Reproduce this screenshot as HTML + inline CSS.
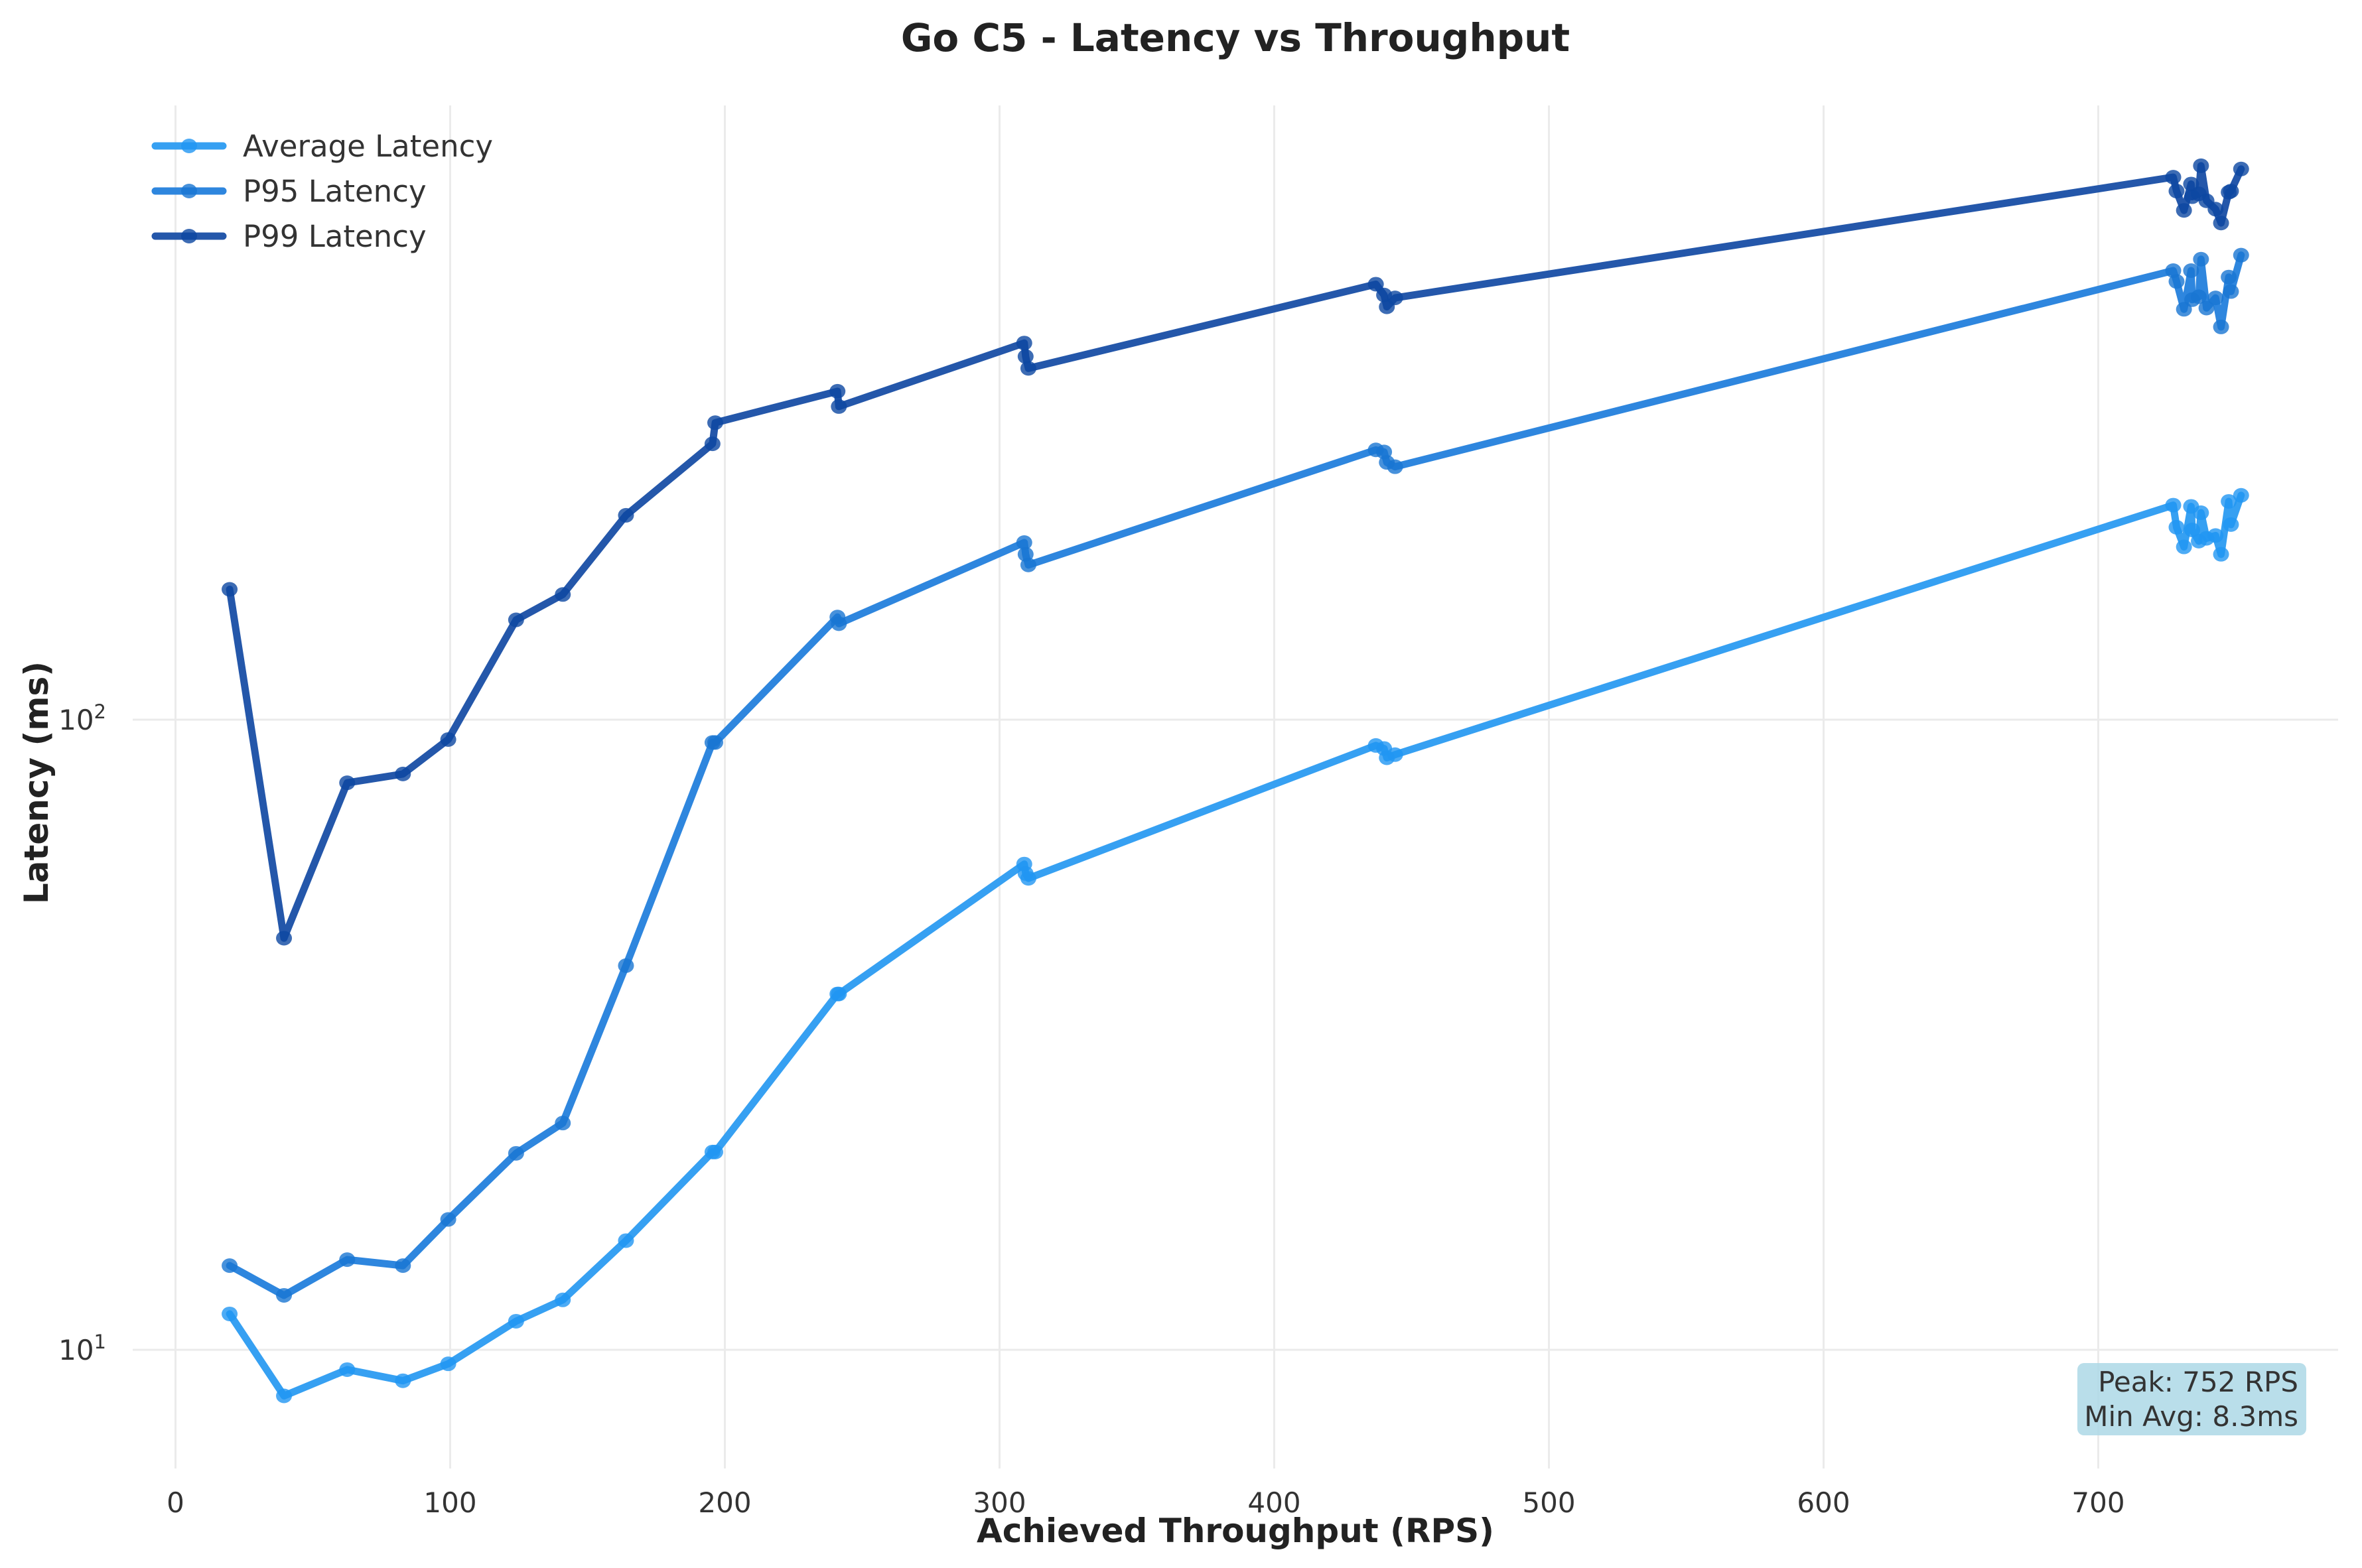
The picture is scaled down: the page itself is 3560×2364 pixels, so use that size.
<!DOCTYPE html>
<html><head><meta charset="utf-8"><style>
html,body{margin:0;padding:0;background:#fff;}
svg{display:block;font-family:"DejaVu Sans","Liberation Sans",sans-serif;}
</style></head><body>
<svg id="chart" width="3560" height="2364" viewBox="0 0 3560 2364">
<text x="1862" y="77" text-anchor="middle" font-size="58" font-weight="bold" fill="#222">Go C5 - Latency vs Throughput</text>
<g id="grid"></g>
<g id="series"></g>
<g id="ticks"></g>
<text x="1862" y="2325" text-anchor="middle" font-size="50" font-weight="bold" fill="#222">Achieved Throughput (RPS)</text>
<text transform="translate(72,1180) rotate(-90)" text-anchor="middle" font-size="50" font-weight="bold" fill="#222">Latency (ms)</text>
<g id="legend"></g>
<g>
<rect x="3131" y="2055" width="345" height="109" rx="10" fill="#add8e6" fill-opacity="0.85"/>
<text x="3464" y="2098" text-anchor="end" font-size="42" fill="#333">Peak: 752 RPS</text>
<text x="3464" y="2150" text-anchor="end" font-size="42" fill="#333">Min Avg: 8.3ms</text>
</g>
</svg>
<script>
const rps = [19.7,39.5,62.5,82.8,99.3,124,141,164,195.5,196.5,241,241.5,309,309.5,310.5,437,440,441,444,
  727.3,728.5,731.2,733.8,734.2,736.6,737.4,739.4,742.7,744.7,747.5,748.3,752];
const avgLatency = [11.4,8.45,9.3,8.93,9.5,11.1,12.0,14.9,20.6,20.6,36.7,36.7,59,57,56,91,90,87,88,
  219,202,188,218,200,192,213,194,196,183,222,204,227];
const p95Latency = [13.6,12.2,13.9,13.6,16.1,20.5,22.9,40.7,92,92,145.5,142,191,183,176,268,266,256,252,
  516,496,448,516,464,469,538,450,467,420,504,478,546];
const p99Latency = [161,45,79.4,82,93,144,158,211,274,296,332,314,396,377,361,491,472,452,467,
  726,690,643,708,676,683,757,666,646,614,687,690,748];
const seriesNames = ["Average Latency","P95 Latency","P99 Latency"];
const xTicks = [0,100,200,300,400,500,600,700];
const yTickExps = [1,2];

const NS="http://www.w3.org/2000/svg";
const X0=264.5, XS=4.14;
const Y1=2035, DEC=950;
const plotL=200, plotR=3524, plotT=159, plotB=2214;
function xs(v){return X0+v*XS;}
function ys(v){return Y1-(Math.log10(v)-1)*DEC;}
function mk(tag,attrs,parent){const e=document.createElementNS(NS,tag);for(const k in attrs)e.setAttribute(k,attrs[k]);parent.appendChild(e);return e;}

const grid=document.getElementById('grid');
xTicks.forEach(t=>{
  const l=mk('line',{x1:xs(t),x2:xs(t),y1:plotT,y2:plotB,stroke:'#ebebeb','stroke-width':3},grid);
  
  
});
yTickExps.forEach(e=>{
  const l=mk('line',{x1:plotL,x2:plotR,y1:ys(Math.pow(10,e)),y2:ys(Math.pow(10,e)),stroke:'#ebebeb','stroke-width':3},grid);
  
  
});
const ticks=document.getElementById('ticks');
xTicks.forEach(t=>{
  const tx=mk('text',{x:xs(t),y:2280,'text-anchor':'middle','font-size':42,fill:'#333'},ticks);
  tx.textContent=String(t);
  
  
});
yTickExps.forEach(e=>{
  const tx=mk('text',{x:160,y:ys(Math.pow(10,e))+15,'text-anchor':'end','font-size':42,fill:'#333'},ticks);
  tx.textContent='10';
  const s=mk('tspan',{dy:-17,'font-size':29},tx);
  s.textContent=String(e);
  
  
});

const lineCols=['#36a0f2','#2e86de','#2457aa'];
const dotCols=['#2196f3','#1976d2','#0d47a1'];
const data=[avgLatency,p95Latency,p99Latency];
const keys=['average','p95','p99'];
const sg=document.getElementById('series');
data.forEach((vals,si)=>{
  const g=mk('g',{},sg);
  
  
  const pts=rps.map((x,i)=>xs(x).toFixed(1)+','+ys(vals[i]).toFixed(1)).join(' ');
  const pl=mk('polyline',{points:pts,fill:'none',stroke:lineCols[si],'stroke-width':11,'stroke-linejoin':'round','stroke-linecap':'round'},g);
  
  
  rps.forEach((x,i)=>{
    const c=mk('ellipse',{cx:xs(x),cy:ys(vals[i]),rx:12,ry:11,fill:dotCols[si],'fill-opacity':0.8},g);
    
    
  });
});

const lg=document.getElementById('legend');
seriesNames.forEach((n,i)=>{
  const y=220+i*68;
  const g=mk('g',{},lg);
  
  
  mk('line',{x1:234,x2:336,y1:y,y2:y,stroke:lineCols[i],'stroke-width':11,'stroke-linecap':'round'},g);
  mk('ellipse',{cx:285,cy:y,rx:12,ry:11,fill:dotCols[i],'fill-opacity':0.8},g);
  const t=mk('text',{x:366,y:y+16,'font-size':45,fill:'#333'},g);
  t.textContent=n;
});
</script>
</body></html>
